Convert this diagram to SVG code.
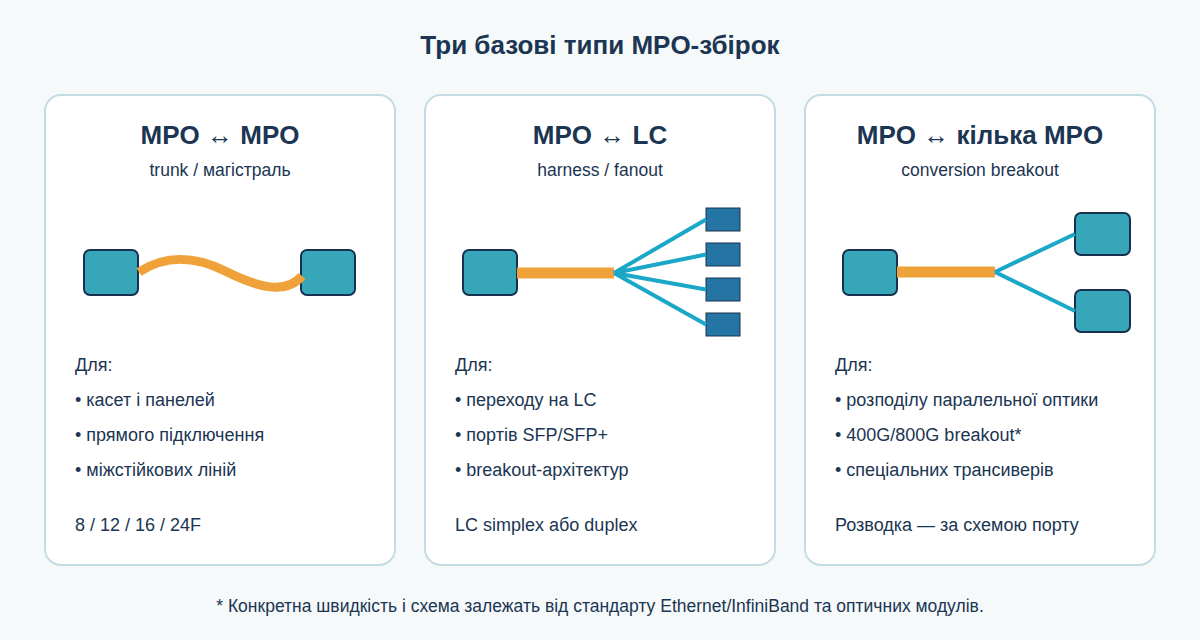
<svg xmlns="http://www.w3.org/2000/svg" width="1200" height="640" viewBox="0 0 1200 640">
<style>
text{font-family:"Liberation Sans",Arial,sans-serif;fill:#1b3552}
.card{fill:#fff;stroke:#c5dbe3;stroke-width:2}
.h{font-size:26px;font-weight:bold;text-anchor:middle}
.s{font-size:17.5px;text-anchor:middle}
.b{font-size:18px}
.mpo{fill:#36a6b8;stroke:#173250;stroke-width:2}
.lc{fill:#2474a4;stroke:#173250;stroke-width:1}
.cab{stroke:#efa23a;fill:none}
.fib{stroke:#1ba8c8;stroke-width:4;fill:none}
</style>
<rect width="1200" height="640" fill="#f5f9fa"/>
<text x="600" y="54" font-size="26" font-weight="bold" text-anchor="middle">Три базові типи MPO-збірок</text>
<g id="card1">
<rect class="card" x="45" y="95" width="350" height="470" rx="16"/>
<text class="h" x="220" y="144">MPO ↔ MPO</text>
<text class="s" x="220" y="176">trunk / магістраль</text>
<rect class="mpo" x="84" y="250" width="54" height="45" rx="6"/>
<rect class="mpo" x="301" y="250" width="54" height="45" rx="6"/>
<text class="b" x="75" y="371">Для:</text>
<text class="b" x="75" y="406">• касет і панелей</text>
<text class="b" x="75" y="441">• прямого підключення</text>
<text class="b" x="75" y="476">• міжстійкових ліній</text>
<text class="b" x="75" y="531">8 / 12 / 16 / 24F</text>
</g>
<g id="card2">
<rect class="card" x="425" y="95" width="350" height="470" rx="16"/>
<text class="h" x="600" y="144">MPO ↔ LC</text>
<text class="s" x="600" y="176">harness / fanout</text>
<rect class="mpo" x="463" y="250" width="54" height="45" rx="6"/>
<rect class="lc" x="706" y="208" width="34" height="23"/>
<rect class="lc" x="706" y="243" width="34" height="23"/>
<rect class="lc" x="706" y="278" width="34" height="23"/>
<rect class="lc" x="706" y="313" width="34" height="23"/>
<text class="b" x="455" y="371">Для:</text>
<text class="b" x="455" y="406">• переходу на LC</text>
<text class="b" x="455" y="441">• портів SFP/SFP+</text>
<text class="b" x="455" y="476">• breakout-архітектур</text>
<text class="b" x="455" y="531">LC simplex або duplex</text>
</g>
<g id="card3">
<rect class="card" x="805" y="95" width="350" height="470" rx="16"/>
<text class="h" x="980" y="144">MPO ↔ кілька MPO</text>
<text class="s" x="980" y="176">conversion breakout</text>
<rect class="mpo" x="843" y="250" width="54" height="45" rx="6"/>
<rect class="mpo" x="1075" y="213" width="55" height="42" rx="6"/>
<rect class="mpo" x="1075" y="290" width="55" height="42" rx="6"/>
<text class="b" x="835" y="371">Для:</text>
<text class="b" x="835" y="406">• розподілу паралельної оптики</text>
<text class="b" x="835" y="441">• 400G/800G breakout*</text>
<text class="b" x="835" y="476">• спеціальних трансиверів</text>
<text class="b" x="835" y="531">Розводка — за схемою порту</text>
</g>
<g id="connectors">
<path class="cab" stroke-width="9" d="M139,272 C165,255 195,256 225,271 C255,286 285,296 302,276"/>
<line class="cab" stroke-width="11" x1="517" y1="273" x2="614" y2="273"/>
<path class="fib" d="M614,273 L706,219.5 M614,273 L706,254.5 M614,273 L706,289.5 M614,273 L706,324.5"/>
<line class="cab" stroke-width="11" x1="897" y1="272" x2="995" y2="272"/>
<path class="fib" d="M995,272 L1075,234 M995,272 L1075,311"/>
</g>
<text x="600" y="612" font-size="17.5" text-anchor="middle">* Конкретна швидкість і схема залежать від стандарту Ethernet/InfiniBand та оптичних модулів.</text>
</svg>
